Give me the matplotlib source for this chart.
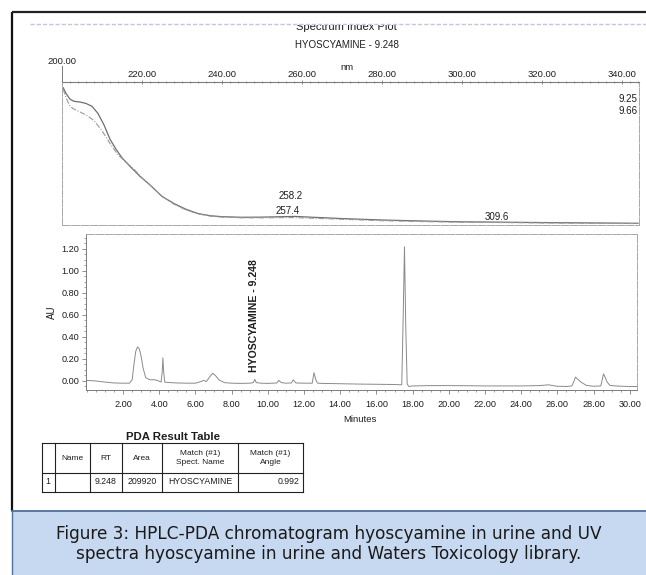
import matplotlib
matplotlib.use("Agg")
import matplotlib.pyplot as plt
from matplotlib.patches import Rectangle
from matplotlib.ticker import MultipleLocator, FixedLocator, FuncFormatter

# ---------------- data ----------------
# UV spectra (Spectrum Index Plot)
spec_nm_925 = [200.3, 201.0, 202.0, 203.0, 204.5, 206.0, 207.5, 209.0, 210.5, 212.0,
               213.5, 215.0, 217.0, 219.5, 222.0, 225.0, 228.0, 231.0, 234.0, 237.0,
               240.0, 245.0, 250.0, 255.0, 258.2, 262.0, 270.0, 280.0, 290.0, 300.0,
               309.6, 320.0, 330.0, 344.0]
spec_925 = [0.96, 0.92, 0.88, 0.865, 0.86, 0.85, 0.83, 0.78, 0.70, 0.60,
            0.53, 0.47, 0.41, 0.34, 0.28, 0.20, 0.15, 0.11, 0.08, 0.065,
            0.058, 0.054, 0.055, 0.058, 0.060, 0.055, 0.045, 0.035, 0.028, 0.022,
            0.020, 0.017, 0.015, 0.012]
spec_nm_966 = [200.3, 201.0, 202.0, 203.0, 204.5, 206.0, 208.0, 210.0, 212.0, 214.0,
               216.0, 218.0, 220.0, 222.0, 225.0, 228.0, 231.0, 234.0, 237.0, 240.0,
               245.0, 250.0, 257.4, 262.0, 270.0, 280.0, 290.0, 300.0, 310.0, 320.0,
               330.0, 344.0]
spec_966 = [0.95, 0.89, 0.83, 0.81, 0.79, 0.77, 0.73, 0.66, 0.57, 0.49,
            0.44, 0.39, 0.33, 0.28, 0.20, 0.145, 0.105, 0.078, 0.062, 0.055,
            0.050, 0.050, 0.052, 0.048, 0.040, 0.030, 0.024, 0.019, 0.017, 0.014,
            0.012, 0.010]
spec_ticks = [200, 220, 240, 260, 280, 300, 320, 340]
spec_rt_labels = ["9.25", "9.66"]
spec_peak_labels = ["258.2", "257.4", "309.6"]
spec_peak_nm = [258.2, 257.4, 309.6]
spec_peak_level = [0.20, 0.098, 0.056]

# Chromatogram
chrom_t = [0.00, 0.50, 1.00, 1.50, 2.00, 2.35, 2.50, 2.60, 2.70, 2.80,
           2.90, 3.00, 3.10, 3.25, 3.50, 3.70, 3.90, 4.10, 4.16, 4.20,
           4.24, 4.30, 4.60, 5.00, 5.50, 6.00, 6.30, 6.45, 6.60, 6.80,
           6.95, 7.10, 7.30, 7.60, 8.00, 8.50, 9.00, 9.20, 9.28, 9.36,
           9.60, 10.00, 10.50, 10.60, 10.75, 11.00, 11.30, 11.40, 11.55, 12.00,
           12.45, 12.55, 12.65, 12.75, 13.00, 14.00, 15.00, 16.00, 17.00, 17.40,
           17.48, 17.55, 17.62, 17.70, 17.80, 18.00, 19.00, 20.00, 21.00, 22.00,
           23.00, 24.00, 25.00, 25.50, 26.00, 26.50, 26.80, 26.92, 27.00, 27.10,
           27.30, 27.60, 28.00, 28.40, 28.55, 28.65, 28.75, 28.90, 29.20, 29.60,
           30.00, 30.40]
chrom_au = [0.005, 0.000, -0.010, -0.018, -0.020, -0.020, 0.010, 0.150, 0.270, 0.310,
            0.290, 0.220, 0.120, 0.030, 0.010, 0.012, 0.005, -0.010, 0.080, 0.210,
            0.090, -0.010, -0.015, -0.018, -0.020, -0.020, -0.005, 0.005, -0.005, 0.040,
            0.070, 0.050, 0.010, -0.015, -0.020, -0.022, -0.020, -0.015, 0.015, -0.015,
            -0.020, -0.022, -0.018, 0.005, -0.015, -0.020, -0.018, 0.010, -0.018, -0.020,
            -0.020, 0.075, 0.010, -0.020, -0.022, -0.025, -0.028, -0.030, -0.032, -0.035,
            0.600, 1.220, 0.500, -0.030, -0.050, -0.045, -0.042, -0.042, -0.043, -0.045,
            -0.045, -0.045, -0.042, -0.035, -0.048, -0.050, -0.045, 0.000, 0.035, 0.020,
            -0.010, -0.040, -0.048, -0.045, 0.065, 0.030, -0.010, -0.040, -0.045, -0.048,
            -0.050, -0.050]
time_ticks = [2, 4, 6, 8, 10, 12, 14, 16, 18, 20, 22, 24, 26, 28, 30]
au_ticks = [0.0, 0.2, 0.4, 0.6, 0.8, 1.0, 1.2]
peak_name = "HYOSCYAMINE - 9.248"
peak_rt = 9.248

# PDA result table
table_header = ["", "Name", "RT", "Area", "Match (#1)\nSpect. Name", "Match (#1)\nAngle"]
table_row = ["1", "", "9.248", "209920", "HYOSCYAMINE", "0.992"]

caption_lines = ["Figure 3: HPLC-PDA chromatogram hyoscyamine in urine and UV",
                 "spectra hyoscyamine in urine and Waters Toxicology library."]

# ---------------- layout helpers ----------------
W, H = 646, 575
fig = plt.figure(figsize=(W / 100, H / 100), dpi=100)
fig.patch.set_facecolor("white")

def rect(x0, y0, x1, y1):
    return [x0 / W, 1 - y1 / H, (x1 - x0) / W, (y1 - y0) / H]

FONT = "Liberation Sans"
TXT = "#1e1e1e"
LINE = "#7c7c7c"
FAINT = "#a8a8a8"

bg = fig.add_axes([0, 0, 1, 1])
bg.set_xlim(0, W)
bg.set_ylim(H, 0)
bg.axis("off")

# outer black frame
bg.plot([12, 12], [12, 511], color="#111111", lw=1.6, solid_capstyle="butt")
bg.plot([12, W + 2], [12, 12], color="#222222", lw=1.6, solid_capstyle="butt")

# titles of spectrum plot
bg.text(346, 27, "Spectrum Index Plot", fontsize=8.0, family=FONT, color=TXT,
        ha="center", va="center")
bg.add_patch(Rectangle((200, 14), 300, 10.5, facecolor="white", edgecolor="none", zorder=3))
bg.plot([30, W], [23.5, 23.5], color="#c4c4dc", lw=1.0, ls=(0, (3, 1.5)), zorder=4)
bg.text(347, 45, "HYOSCYAMINE - 9.248", fontsize=7.0, family=FONT, color=TXT,
        ha="center", va="center")
bg.text(347, 67, "nm", fontsize=6.8, family=FONT, color=TXT, ha="center", va="center")

# ---------------- spectrum axes ----------------
ax1 = fig.add_axes(rect(62, 82, 639, 225))
ax1.plot(spec_nm_925, spec_925, color="#6e6e6e", lw=0.9)
ax1.plot(spec_nm_966, spec_966, color="#9a9a9a", lw=0.8, ls=(0, (5, 1.5, 1, 1.5)))
ax1.set_xlim(200, 344.25)
ax1.set_ylim(0, 1.0)
ax1.set_facecolor("none")
ax1.xaxis.tick_top()
ax1.xaxis.set_major_locator(FixedLocator(spec_ticks))
ax1.xaxis.set_minor_locator(MultipleLocator(2))
ax1.xaxis.set_major_formatter(FuncFormatter(lambda v, p: "" if v == 200 else f"{v:.2f}"))
ax1.tick_params(axis="x", which="major", top=True, bottom=False, length=2.5, width=0.6,
                color=LINE, direction="inout", pad=1.0, labelsize=6.8, labelcolor=TXT)
ax1.tick_params(axis="x", which="minor", top=True, bottom=False, length=1.6, width=0.5,
                color=LINE, direction="inout")
for lab in ax1.get_xticklabels():
    lab.set_family(FONT)
ax1.set_yticks([])
ax1.spines["top"].set_color(LINE)
ax1.spines["top"].set_linewidth(0.8)
for s in ("left", "right", "bottom"):
    ax1.spines[s].set_color(FAINT)
    ax1.spines[s].set_linewidth(0.7)
    ax1.spines[s].set_linestyle((0, (8, 1.5)))
# raised first tick and its label
bg.plot([62, 62], [66, 82], color=LINE, lw=0.7)
bg.text(62, 62, "200.00", fontsize=6.8, family=FONT, color=TXT, ha="center", va="center")

for i, lab in enumerate(spec_rt_labels):
    ax1.text(0.997, 0.88 - i * 0.085, lab, transform=ax1.transAxes, fontsize=7,
             family=FONT, color=TXT, ha="right", va="center")
for lab, x, y in zip(spec_peak_labels, spec_peak_nm, spec_peak_level):
    ax1.text(x - 1, y, lab, fontsize=7, family=FONT, color=TXT, ha="center", va="center")

# ---------------- chromatogram axes ----------------
ax2 = fig.add_axes(rect(86, 234, 637, 390))
ax2.plot(chrom_t, chrom_au, color="#8a8a8a", lw=0.7)
ax2.set_xlim(-0.05, 30.4)
ax2.set_ylim(-0.082, 1.336)
ax2.set_facecolor("none")
ax2.xaxis.set_major_locator(FixedLocator(time_ticks))
ax2.xaxis.set_minor_locator(MultipleLocator(0.5))
ax2.yaxis.set_major_locator(FixedLocator(au_ticks))
ax2.yaxis.set_minor_locator(MultipleLocator(0.05))
ax2.xaxis.set_major_formatter(FuncFormatter(lambda v, p: f"{v:.2f}"))
ax2.yaxis.set_major_formatter(FuncFormatter(lambda v, p: f"{v:.2f}"))
ax2.tick_params(axis="both", which="major", length=3, width=0.6, color=LINE,
                labelsize=6.6, labelcolor=TXT, direction="out")
ax2.tick_params(axis="x", which="major", pad=4)
ax2.tick_params(axis="y", which="major", pad=2)
ax2.tick_params(axis="both", which="minor", length=1.6, width=0.5, color=LINE, direction="out")
for lab in ax2.get_xticklabels() + ax2.get_yticklabels():
    lab.set_family(FONT)
ax2.spines["left"].set_color(LINE)
ax2.spines["bottom"].set_color(LINE)
ax2.spines["left"].set_linewidth(0.7)
ax2.spines["bottom"].set_linewidth(0.7)
for s in ("top", "right"):
    ax2.spines[s].set_color(FAINT)
    ax2.spines[s].set_linewidth(0.7)
    ax2.spines[s].set_linestyle((0, (8, 1.5)))
ax2.text(peak_rt, 0.08, peak_name, rotation=90, fontsize=7.6, family=FONT,
         fontweight="bold", color=TXT, ha="center", va="bottom")
bg.text(52, 312, "AU", rotation=90, fontsize=7, family=FONT, color=TXT,
        ha="center", va="center")
bg.text(360, 420, "Minutes", fontsize=6.8, family=FONT, color=TXT,
        ha="center", va="center")

# ---------------- PDA result table ----------------
bg.text(173, 437, "PDA Result Table", fontsize=8.2, family=FONT, fontweight="bold",
        color=TXT, ha="center", va="center")
col_x = [42, 55, 90, 122, 162, 238, 303]
row_y = [443, 473, 492]
for x in col_x:
    bg.plot([x, x], [row_y[0], row_y[-1]], color="#222222", lw=0.8)
for y in row_y:
    bg.plot([col_x[0], col_x[-1]], [y, y], color="#222222", lw=0.8)
for i, txt in enumerate(table_header):
    cx = (col_x[i] + col_x[i + 1]) / 2
    bg.text(cx, (row_y[0] + row_y[1]) / 2, txt, fontsize=6, family=FONT, color=TXT,
            ha="center", va="center", linespacing=1.3)
for i, txt in enumerate(table_row):
    if i == 0:
        bg.text(col_x[0] + 3, 482, txt, fontsize=6.3, family=FONT, color=TXT,
                ha="left", va="center")
    elif i == len(table_row) - 1:
        bg.text(col_x[i + 1] - 3, 482, txt, fontsize=6.3, family=FONT, color=TXT,
                ha="right", va="center")
    else:
        cx = (col_x[i] + col_x[i + 1]) / 2
        bg.text(cx, 482, txt, fontsize=6.3, family=FONT, color=TXT,
                ha="center", va="center")

# ---------------- caption ----------------
bg.add_patch(Rectangle((12, 511), W, 80, facecolor="#c6d9f0", edgecolor="none", zorder=1))
bg.plot([12, W], [511, 511], color="#4f6f9c", lw=1.3, zorder=2)
bg.plot([12, 12], [511, H], color="#4f6f9c", lw=1.0, zorder=2)
for i, line in enumerate(caption_lines):
    bg.text(329, 534 + 20 * i, line, fontsize=12.2, family="DejaVu Sans", color="#1a1a1a",
            ha="center", va="center", zorder=3)

fig.savefig("out.png", dpi=100, facecolor="white")
